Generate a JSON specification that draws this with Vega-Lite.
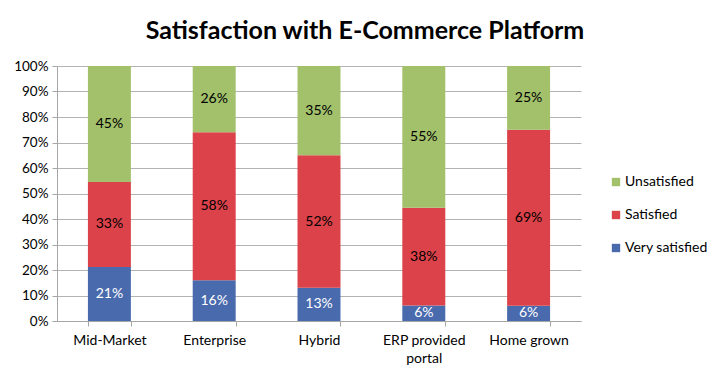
{
  "$schema": "https://vega.github.io/schema/vega-lite/v6.json",
  "autosize": {"type": "none"},
  "padding": {"left": 57, "top": 66, "right": 140, "bottom": 55},
  "width": 524,
  "height": 255,
  "background": "white",
  "config": {"font": "Lato", "view": {"stroke": null}, "axisY": {"labelOverlap": false}},
  "title": {"text": "Satisfaction with E-Commerce Platform", "fontSize": 25, "fontWeight": "bold", "font": "Lato", "color": "#000000", "anchor": "middle", "dx": 46, "offset": 15},
  "data": {"values": [
    {"cat": "Mid-Market", "level": "Very satisfied", "k": 1, "v": 0.21},
    {"cat": "Mid-Market", "level": "Satisfied", "k": 2, "v": 0.33},
    {"cat": "Mid-Market", "level": "Unsatisfied", "k": 3, "v": 0.45},
    {"cat": "Enterprise", "level": "Very satisfied", "k": 1, "v": 0.16},
    {"cat": "Enterprise", "level": "Satisfied", "k": 2, "v": 0.58},
    {"cat": "Enterprise", "level": "Unsatisfied", "k": 3, "v": 0.26},
    {"cat": "Hybrid", "level": "Very satisfied", "k": 1, "v": 0.13},
    {"cat": "Hybrid", "level": "Satisfied", "k": 2, "v": 0.52},
    {"cat": "Hybrid", "level": "Unsatisfied", "k": 3, "v": 0.35},
    {"cat": "ERP provided portal", "level": "Very satisfied", "k": 1, "v": 0.06},
    {"cat": "ERP provided portal", "level": "Satisfied", "k": 2, "v": 0.38},
    {"cat": "ERP provided portal", "level": "Unsatisfied", "k": 3, "v": 0.55},
    {"cat": "Home grown", "level": "Very satisfied", "k": 1, "v": 0.06},
    {"cat": "Home grown", "level": "Satisfied", "k": 2, "v": 0.69},
    {"cat": "Home grown", "level": "Unsatisfied", "k": 3, "v": 0.25}
  ]},
  "transform": [
    {"stack": "v", "groupby": ["cat"], "sort": [{"field": "k", "order": "ascending"}], "offset": "normalize", "as": ["v0", "v1"]},
    {"calculate": "(datum.v0 + datum.v1) / 2", "as": "mid"}
  ],
  "encoding": {
    "x": {
      "field": "cat", "type": "nominal", "sort": null, "title": null,
      "scale": {"paddingInner": 0.59, "paddingOuter": 0.295},
      "axis": {"labelAngle": 0, "labelFontSize": 14, "labelColor": "#000000", "labelPadding": 7, "tickBand": "extent", "tickSize": 5, "tickColor": "#a6a6a6", "domainColor": "#a6a6a6", "labelExpr": "datum.label == 'ERP provided portal' ? ['ERP provided', 'portal'] : datum.label", "labelLineHeight": 18}
    }
  },
  "layer": [
    {
      "mark": {"type": "bar"},
      "encoding": {
        "y": {"field": "v0", "type": "quantitative", "title": null, "scale": {"domain": [0, 1]},
          "axis": {"format": ".0%", "values": [0, 0.1, 0.2, 0.3, 0.4, 0.5, 0.6, 0.7, 0.8, 0.9, 1], "labelOverlap": false, "labelFontSize": 13.5, "labelColor": "#000000", "gridColor": "#b3b3b3", "domainColor": "#a6a6a6", "tickColor": "#a6a6a6", "tickSize": 5, "labelPadding": 4}},
        "y2": {"field": "v1"},
        "color": {"field": "level", "type": "nominal",
          "scale": {"domain": ["Unsatisfied", "Satisfied", "Very satisfied"], "range": ["#a3c06b", "#db4249", "#4a6aae"]},
          "legend": {"title": null, "orient": "none", "legendX": 552, "legendY": 109, "symbolType": "square", "symbolSize": 70, "symbolStrokeWidth": 0, "labelFontSize": 14, "labelColor": "#000000", "rowPadding": 19, "labelOffset": 2}}
      }
    },
    {
      "mark": {"type": "text", "fontSize": 14, "baseline": "middle"},
      "encoding": {
        "y": {"field": "mid", "type": "quantitative", "title": null, "scale": {"domain": [0, 1]},
          "axis": {"format": ".0%", "values": [0, 0.1, 0.2, 0.3, 0.4, 0.5, 0.6, 0.7, 0.8, 0.9, 1], "labelOverlap": false, "labelFontSize": 13.5, "labelColor": "#000000", "gridColor": "#b3b3b3", "domainColor": "#a6a6a6", "tickColor": "#a6a6a6", "tickSize": 5, "labelPadding": 4}},
        "text": {"field": "v", "type": "quantitative", "format": ".0%"},
        "color": {"condition": {"test": "datum.level == 'Very satisfied'", "value": "#ffffff"}, "value": "#000000"},
        "fontWeight": {"condition": {"test": "datum.level == 'Very satisfied'", "value": "bold"}, "value": "normal"}
      }
    }
  ]
}
